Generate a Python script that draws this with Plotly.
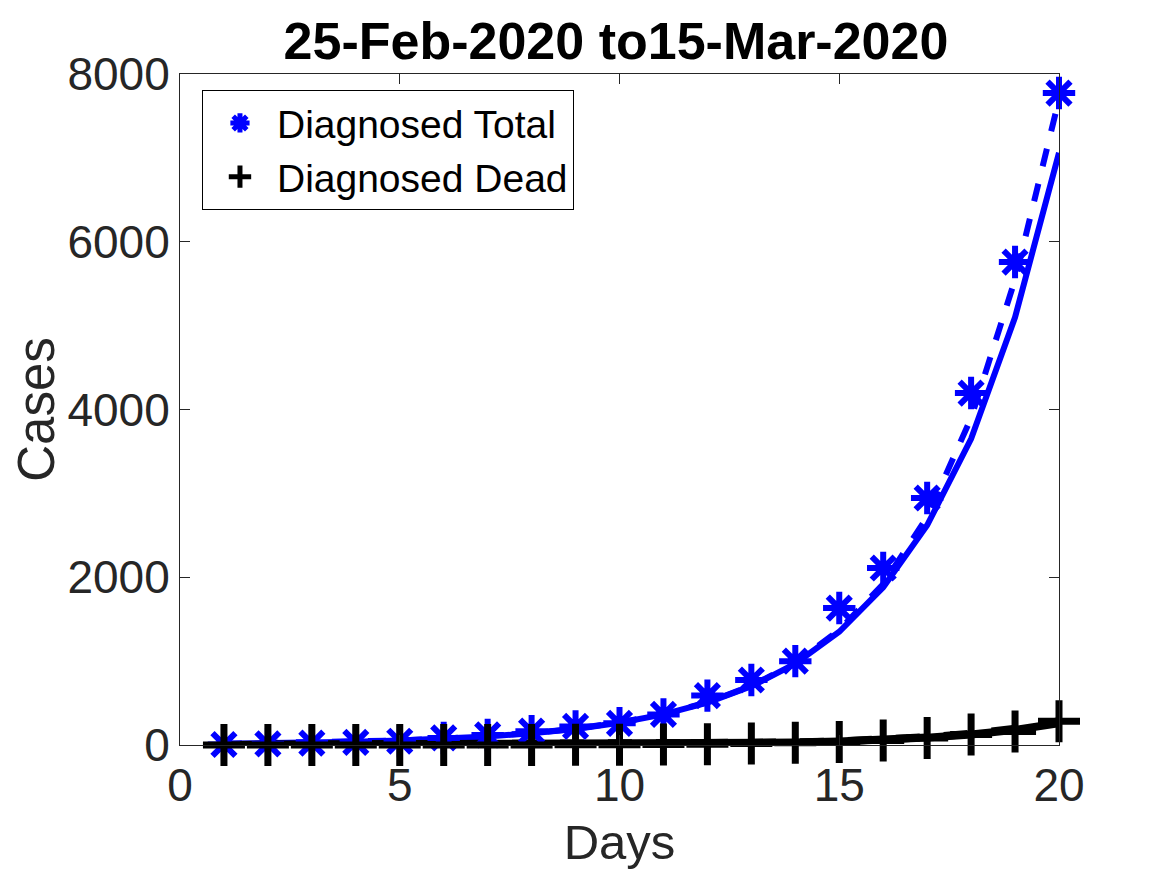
import plotly.graph_objects as go

days = list(range(1, 21))

total_obs = [6, 13, 23, 32, 45, 84, 120, 165, 222, 259, 365, 589, 775, 1000,
             1633, 2110, 2945, 4196, 5758, 7773]
dead_obs = [0, 0, 0, 0, 0, 0, 1, 1, 3, 3, 5, 10, 17, 28, 35, 54, 84, 125, 160, 282]

# model curves
total_fit = [15, 20, 28, 39, 54, 74, 102, 140, 192, 265, 365, 505, 700, 970,
             1350, 1880, 2620, 3650, 5100, 7060]
total_fit2 = [15, 21, 29, 40, 55, 75, 104, 142, 195, 268, 368, 510, 705, 980,
              1370, 1920, 2720, 3900, 5550, 7700]
dead_fit = [0, 1, 1, 1, 2, 2, 3, 4, 5, 7, 10, 14, 20, 29, 42, 60, 88, 125, 180, 260]
dead_fit2 = [0, 1, 1, 1, 2, 2, 3, 4, 5, 7, 10, 14, 21, 30, 44, 63, 92, 133, 193, 285]

BLUE = "#0000ff"
BLACK = "#000000"
GRAY = "#262626"
FONT = "Liberation Sans, Arial, sans-serif"

fig = go.Figure()

fig.add_trace(go.Scatter(x=days, y=total_fit, mode="lines", cliponaxis=False,
                         line=dict(color=BLUE, width=6), showlegend=False))
fig.add_trace(go.Scatter(x=days, y=total_fit2, mode="lines", cliponaxis=False,
                         line=dict(color=BLUE, width=6, dash="dash"), showlegend=False))
fig.add_trace(go.Scatter(x=days, y=dead_fit, mode="lines", cliponaxis=False,
                         line=dict(color=BLACK, width=8), showlegend=False))
fig.add_trace(go.Scatter(x=days, y=dead_fit2, mode="lines", cliponaxis=False,
                         line=dict(color=BLACK, width=8, dash="dash"), showlegend=False))

fig.add_trace(go.Scatter(x=days, y=total_obs, mode="markers", name="Diagnosed Total",
                         cliponaxis=False,
                         marker=dict(symbol="asterisk-open", size=27, color=BLUE,
                                     line=dict(color=BLUE, width=6))))
fig.add_trace(go.Scatter(x=days, y=dead_obs, mode="markers", name="Diagnosed Dead",
                         cliponaxis=False,
                         marker=dict(symbol="cross-thin-open", size=30, color=BLACK,
                                     line=dict(color=BLACK, width=7))))

axis_common = dict(showline=True, linecolor=GRAY, linewidth=1, mirror="ticks",
                   ticks="inside", ticklen=10, tickcolor=GRAY,
                   showgrid=False, zeroline=False,
                   tickfont=dict(size=46, color=GRAY, family=FONT))

fig.update_xaxes(range=[0, 20], tickvals=[0, 5, 10, 15, 20],
                 title=dict(text="Days", font=dict(size=49, color=GRAY, family=FONT),
                            standoff=14),
                 **axis_common)
fig.update_yaxes(range=[0, 8000], tickvals=[0, 2000, 4000, 6000, 8000],
                 title=dict(text="Cases", font=dict(size=51, color=GRAY, family=FONT),
                            standoff=10),
                 **axis_common)

fig.update_layout(
    width=1167, height=875,
    paper_bgcolor="white", plot_bgcolor="white",
    margin=dict(l=172, r=116, t=66, b=138),
    title=dict(text="<b>25-Feb-2020 to15-Mar-2020</b>", x=0.521, xanchor="center",
               y=0.962, yanchor="middle",
               font=dict(size=52, color="black", family=FONT)),
    legend=dict(x=0.025, y=0.976, xanchor="left", yanchor="top",
                bgcolor="white", bordercolor="black", borderwidth=1,
                font=dict(size=39, color="black", family=FONT),
                itemwidth=64, tracegroupgap=0),
)

fig.write_html("out.html")
